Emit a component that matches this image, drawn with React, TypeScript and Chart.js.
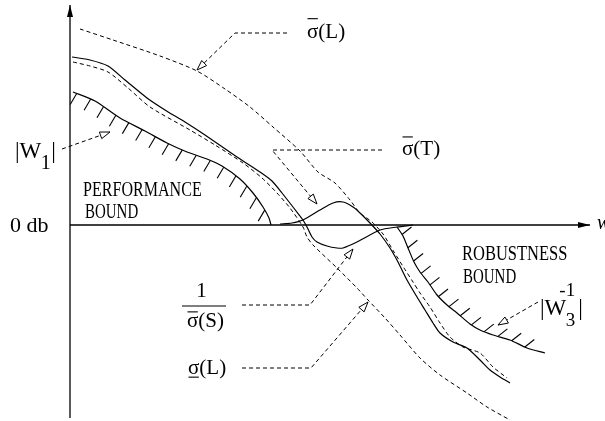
import React, { useEffect, useRef } from "react";
import { Chart, registerables } from "chart.js";

Chart.register(...registerables);

// Loop-shaping sketch: x is log frequency (arbitrary units), y is gain in dB.
type P = [number, number];

// Largest singular value of the loop gain L
const sigmaMaxL: P[] = [
  [1.0, 19.6], [4.3, 18.5], [9.0, 16.9], [12.7, 15.4], [15.5, 13.6], [18.0, 11.8],
  [20.3, 9.8], [23.0, 7.4], [24.8, 5.3], [26.5, 4.2], [28.0, 2.5], [29.0, 1.2],
  [30.2, 0.3], [31.3, -0.9], [32.4, -2.7], [33.4, -4.3], [34.3, -5.7], [35.0, -6.8],
  [36.0, -8.2], [37.0, -9.8], [38.0, -11.2], [39.3, -12.2], [41.0, -12.8],
  [42.3, -14.2], [43.7, -15.3],
];

// Smallest singular value of L
const sigmaMinL: P[] = [
  [0.3, 16.3], [2.0, 15.9], [3.8, 15.3], [5.8, 13.7], [8.0, 11.8], [12.0, 9.5],
  [14.5, 8.0], [17.3, 6.2], [19.2, 4.7], [20.7, 3.2], [22.0, 1.7], [23.3, -0.2],
  [23.7, -1.2], [24.3, -2.0], [26.7, -4.3], [28.7, -6.3], [29.8, -7.5], [31.5, -9.3],
  [33.0, -11.0], [35.0, -13.3], [37.0, -15.0], [39.7, -16.8], [41.7, -18.2], [44.0, -19.5],
];

// Largest singular value of the complementary sensitivity T
const sigmaMaxT: P[] = [
  [21.0, 0.1], [22.2, 0.2], [23.3, 0.5], [25.0, 1.5], [26.3, 2.2], [27.3, 2.3],
  [28.3, 1.8], [29.0, 1.2], [30.0, 0.2], [31.0, -0.9], [32.0, -2.3], [32.8, -3.7],
  [33.7, -5.5], [34.7, -7.2], [35.5, -8.5], [36.3, -9.8], [37.0, -10.8], [38.3, -11.7],
  [39.7, -12.3], [41.0, -13.5], [42.0, -14.5], [43.0, -15.2], [44.0, -15.8],
];

// 1 / largest singular value of the sensitivity S
const invSigmaMaxS: P[] = [
  [0.2, 16.8], [2.0, 16.5], [3.8, 15.9], [5.5, 14.5], [7.7, 12.7], [9.5, 11.5],
  [11.5, 10.3], [13.5, 9.0], [16.7, 6.8], [19.0, 5.3], [20.2, 4.4], [21.2, 3.2],
  [23.0, 0.9], [23.3, 0.5], [23.7, -0.2], [24.2, -1.2], [24.7, -1.7], [25.7, -2.1],
  [26.7, -2.3], [27.3, -2.3], [28.7, -1.7], [31.0, -0.5], [32.7, -0.2], [34.3, 0.0],
];

// Performance weight |W1|
const w1Bound: P[] = [
  [0.3, 13.3], [2.5, 12.4], [5.0, 10.7], [7.5, 9.4], [9.7, 8.2], [11.7, 7.3],
  [13.7, 6.6], [15.2, 5.9], [17.0, 4.6], [18.3, 3.2], [19.3, 1.8], [19.9, 0.7], [20.1, 0.0],
];

// Robustness bound |W3|^-1
const w3InvBound: P[] = [
  [32.7, -0.2], [33.3, -1.1], [33.8, -2.3], [34.4, -3.7], [35.0, -4.7], [35.8, -5.7],
  [36.7, -7.0], [37.7, -8.0], [38.7, -8.8], [40.0, -9.9], [41.0, -10.5], [42.3, -11.0],
  [44.0, -11.5], [45.7, -12.3], [47.5, -12.8],
];

// Axes: frequency axis along 0 dB, gain axis at the left
const freqAxis: P[] = [[0, 0], [52.0, 0]];
const gainAxis: P[] = [[0, -19.3], [0, 22.0]];

// Leader lines from the labels to the curves (arrow at the last point)
const leaderSigmaMaxL: P[] = [[21.7, 19.2], [16.5, 19.2], [12.7, 15.5]];
const leaderSigmaMaxT: P[] = [[31.2, 7.5], [20.2, 7.5], [24.7, 2.1]];
const leaderW1: P[] = [[-0.8, 7.6], [4.0, 9.3]];
const leaderInvS: P[] = [[17.2, -8.0], [24.0, -8.0], [28.3, -2.4]];
const leaderSigmaMinL: P[] = [[17.2, -14.3], [24.1, -14.3], [29.8, -7.7]];
const leaderW3: P[] = [[46.8, -7.7], [42.8, -10.0]];

const leaders: P[][] = [
  leaderSigmaMaxL, leaderSigmaMaxT, leaderW1, leaderInvS, leaderSigmaMinL, leaderW3,
];

const X_MIN = -7.0;
const X_MAX = 53.5;
const Y_MIN = -19.6;
const Y_MAX = 22.5;

const INK = "#000";
const SERIF = '"Liberation Serif", "DejaVu Serif", serif';
const DASH = [4, 3];

const pts = (a: P[]) => a.map(([x, y]) => ({ x, y }));

const solid = (a: P[], width = 1.2) => ({
  data: pts(a),
  showLine: true,
  borderColor: INK,
  borderWidth: width,
  pointRadius: 0,
  tension: 0.25,
  fill: false,
});

const dashed = (a: P[], tension = 0.25) => ({
  data: pts(a),
  showLine: true,
  borderColor: INK,
  borderWidth: 1,
  borderDash: DASH,
  pointRadius: 0,
  tension,
  fill: false,
});

// Hatch marks, arrowheads and all the lettering
const decorPlugin = {
  id: "sketchDecor",
  afterDatasetsDraw(chart: any) {
    const ctx: CanvasRenderingContext2D = chart.ctx;
    const sx = chart.scales.x;
    const sy = chart.scales.y;
    const toPx = (p: P): P => [sx.getPixelForValue(p[0]), sy.getPixelForValue(p[1])];

    ctx.save();
    ctx.strokeStyle = INK;
    ctx.fillStyle = INK;
    ctx.setLineDash([]);

    // hatching along a bound, on its forbidden side
    const hatch = (curve: P[], vec: P, spacing: number, start: number, endGap: number) => {
      const pp = curve.map(toPx);
      const seg: number[] = [0];
      for (let i = 1; i < pp.length; i++) {
        seg.push(seg[i - 1] + Math.hypot(pp[i][0] - pp[i - 1][0], pp[i][1] - pp[i - 1][1]));
      }
      const total = seg[seg.length - 1];
      ctx.lineWidth = 1.1;
      for (let s = start; s <= total - endGap; s += spacing) {
        let i = 1;
        while (i < seg.length - 1 && seg[i] < s) i++;
        const t = (s - seg[i - 1]) / (seg[i] - seg[i - 1] || 1);
        const x = pp[i - 1][0] + t * (pp[i][0] - pp[i - 1][0]);
        const y = pp[i - 1][1] + t * (pp[i][1] - pp[i - 1][1]);
        ctx.beginPath();
        ctx.moveTo(x, y);
        ctx.lineTo(x + vec[0], y + vec[1]);
        ctx.stroke();
      }
    };
    hatch(w1Bound, [-6.5, 11], 15, 4, 5);
    hatch(w3InvBound, [9.5, -7.5], 14.5, 9, 8);

    // open arrowheads on the leaders
    ctx.lineWidth = 1;
    for (const ld of leaders) {
      const a = toPx(ld[ld.length - 2]);
      const b = toPx(ld[ld.length - 1]);
      const ang = Math.atan2(b[1] - a[1], b[0] - a[0]);
      const L = 10;
      const H = 3.5;
      const bx = b[0] - L * Math.cos(ang);
      const by = b[1] - L * Math.sin(ang);
      ctx.beginPath();
      ctx.moveTo(b[0], b[1]);
      ctx.lineTo(bx + H * Math.sin(ang), by - H * Math.cos(ang));
      ctx.lineTo(bx - H * Math.sin(ang), by + H * Math.cos(ang));
      ctx.closePath();
      ctx.fillStyle = "#fff";
      ctx.fill();
      ctx.stroke();
    }
    ctx.fillStyle = INK;

    // solid arrowheads on the two axes
    const axisHead = (from: P, to: P) => {
      const a = toPx(from);
      const b = toPx(to);
      const ang = Math.atan2(b[1] - a[1], b[0] - a[0]);
      const L = 12;
      const H = 3;
      const bx = b[0] - L * Math.cos(ang);
      const by = b[1] - L * Math.sin(ang);
      ctx.beginPath();
      ctx.moveTo(b[0], b[1]);
      ctx.lineTo(bx + H * Math.sin(ang), by - H * Math.cos(ang));
      ctx.lineTo(bx - H * Math.sin(ang), by + H * Math.cos(ang));
      ctx.closePath();
      ctx.fill();
    };
    axisHead(freqAxis[0], freqAxis[1]);
    axisHead(gainAxis[0], gainAxis[1]);

    // lettering
    ctx.textBaseline = "alphabetic";
    ctx.textAlign = "left";
    const text = (s: string, at: P, size: number, squeeze = 1, style = "") => {
      const [x, y] = toPx(at);
      ctx.font = `${style} ${size}px ${SERIF}`;
      ctx.save();
      ctx.translate(x, y);
      ctx.scale(squeeze, 1);
      ctx.fillText(s, 0, 0);
      ctx.restore();
      return ctx.measureText(s).width * squeeze;
    };
    const line = (x0: number, y0: number, x1: number, y1: number, w = 1) => {
      ctx.lineWidth = w;
      ctx.beginPath();
      ctx.moveTo(x0, y0);
      ctx.lineTo(x1, y1);
      ctx.stroke();
    };
    // sigma with a bar over it (max) or under it (min), followed by "(X)"
    const sigmaLabel = (arg: string, at: P, size: number, bar: number) => {
      const [x, y] = toPx(at);
      ctx.font = `${size}px ${SERIF}`;
      const w = ctx.measureText("σ").width;
      ctx.fillText("σ", x, y);
      ctx.fillText(arg, x + w, y);
      const by = y - bar * size;
      line(x + 0.5, by, x + w - 0.5, by, 1.1);
    };

    text("0 db", [-6.0, -0.7], 22);
    text("PERFORMANCE", [1.3, 2.9], 22, 0.73);
    text("BOUND", [1.5, 0.7], 22, 0.68);
    text("ROBUSTNESS", [39.2, -3.5], 22, 0.75);
    text("BOUND", [39.3, -5.8], 22, 0.68);
    text("w", [52.7, -0.4], 20, 1, "italic");

    sigmaLabel("(L)", [23.7, 18.7], 21, 0.92);
    sigmaLabel("(T)", [33.2, 7.0], 21, 0.86);
    sigmaLabel("(S)", [11.7, -10.2], 21, 0.72);
    sigmaLabel("(L)", [11.8, -14.9], 21, -0.15);

    // 1 / sigma(S) fraction
    ctx.font = `21px ${SERIF}`;
    ctx.textAlign = "center";
    const [fx0, fy] = toPx([11.2, -8.1]);
    const [fx1] = toPx([15.6, -8.1]);
    const [cx, cy] = toPx([13.15, -7.2]);
    ctx.fillText("1", cx, cy);
    ctx.textAlign = "left";
    line(fx0, fy, fx1, fy, 1.1);

    // |W1|
    let wx = text("|W", [-5.5, 6.7], 23);
    const [w1x, w1y] = toPx([-5.5, 6.7]);
    ctx.font = `20px ${SERIF}`;
    ctx.fillText("1", w1x + wx - 0.5, w1y + 11);
    ctx.font = `23px ${SERIF}`;
    ctx.fillText("|", w1x + wx + 10, w1y);

    // |W3|^-1
    wx = text("|W", [47.0, -9.0], 23);
    const [w3x, w3y] = toPx([47.0, -9.0]);
    ctx.font = `19px ${SERIF}`;
    ctx.fillText("3", w3x + wx - 0.5, w3y + 11);
    ctx.fillText("-1", w3x + wx - 7, w3y - 19);
    ctx.font = `23px ${SERIF}`;
    ctx.fillText("|", w3x + wx + 12, w3y);

    ctx.restore();
  },
};

export default function App() {
  const canvasRef = useRef<HTMLCanvasElement | null>(null);

  useEffect(() => {
    const canvas = canvasRef.current;
    if (!canvas) return;
    const chart = new Chart(canvas, {
      type: "scatter",
      data: {
        datasets: [
          solid(gainAxis, 1.3),
          solid(freqAxis, 1.3),
          solid(w1Bound),
          solid(w3InvBound),
          solid(invSigmaMaxS),
          solid(sigmaMaxT),
          dashed(sigmaMinL),
          dashed(sigmaMaxL),
          ...leaders.map((ld) => dashed(ld, 0)),
        ] as any,
      },
      options: {
        animation: false,
        responsive: false,
        devicePixelRatio: 1,
        events: [],
        layout: { padding: 0 },
        plugins: {
          legend: { display: false },
          tooltip: { enabled: false },
        },
        scales: {
          x: { type: "linear", min: X_MIN, max: X_MAX, display: false },
          y: { type: "linear", min: Y_MIN, max: Y_MAX, display: false },
        },
      },
      plugins: [decorPlugin],
    });
    return () => chart.destroy();
  }, []);

  return (
    <div style={{ position: "fixed", left: 0, top: 0, width: 605, height: 421, background: "#fff" }}>
      <canvas ref={canvasRef} width={605} height={421} style={{ display: "block" }} />
    </div>
  );
}
